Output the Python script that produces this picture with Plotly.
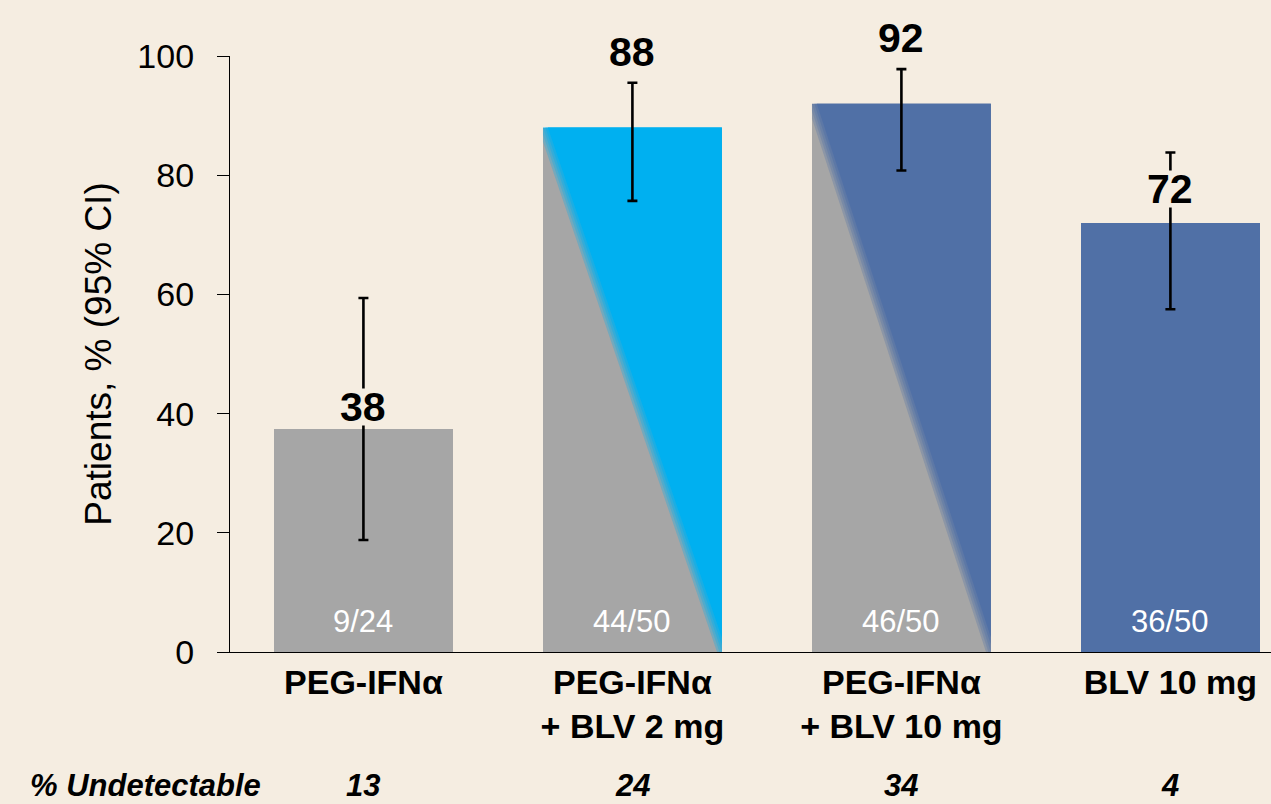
import plotly.graph_objects as go

# ---------------- data ----------------
categories = ["PEG-IFNα", "PEG-IFNα<br>+ BLV 2 mg", "PEG-IFNα<br>+ BLV 10 mg", "BLV 10 mg"]
responders = [9, 44, 46, 36]
totals = [24, 50, 50, 50]
percent = [37.5, 88, 92, 72]
value_labels = ["38", "88", "92", "72"]
ci_lower = [18.8, 75.7, 80.8, 57.5]
ci_upper = [59.4, 95.5, 97.8, 83.8]
undetectable = ["13", "24", "34", "4"]
y_ticks = [0, 20, 40, 60, 80, 100]

# ---------------- style ----------------
BG = "#F5EDE1"
GRAY = "#A6A6A6"
CYAN = "#00B0F0"
BLUE = "#5070A6"
base_colors = [GRAY, GRAY, GRAY, BLUE]
overlay_colors = [None, CYAN, BLUE, None]     # diagonal split colour (upper-right triangle)
label_at_ci = [False, True, True, False]      # value label sits above CI cap or bar top
label_gap_px = [22, 31, 31, 34]
FONT = "Liberation Sans, Arial, sans-serif"
BAR_W = 0.665
ROW_Y = -0.2232   # paper y of the "% Undetectable" row

xs = list(range(len(categories)))

fig = go.Figure()

# base bars
fig.add_trace(go.Bar(
    x=xs, y=percent, width=BAR_W, marker=dict(color=base_colors, line=dict(width=0)),
    hoverinfo="skip", showlegend=False,
))


def clip_halfplane(poly, f):
    out = []
    n = len(poly)
    for i in range(n):
        p, q = poly[i], poly[(i + 1) % n]
        fp, fq = f(*p), f(*q)
        if fp >= 0:
            out.append(p)
        if (fp >= 0) != (fq >= 0):
            t = fp / (fp - fq)
            out.append((p[0] + t * (q[0] - p[0]), p[1] + t * (q[1] - p[1])))
    return out


# diagonal split overlays with a soft edge
soft = 0.018
layers = [(-soft, 0.3), (-soft * 0.5, 0.3), (0.0, 0.35), (soft * 0.5, 0.5), (soft, 1.0)]
for i, col in enumerate(overlay_colors):
    if col is None:
        continue
    xl, xr, v = xs[i] - BAR_W / 2, xs[i] + BAR_W / 2, percent[i]
    rect = [(xl, 0), (xr, 0), (xr, v), (xl, v)]
    for d, a in layers:
        f = (lambda x, y, xl=xl, v=v, d=d: (x - xl) - BAR_W * (1 - y / v) - d)
        poly = clip_halfplane(rect, f)
        if len(poly) < 3:
            continue
        px = [p[0] for p in poly] + [poly[0][0]]
        py = [p[1] for p in poly] + [poly[0][1]]
        r, g, b = int(col[1:3], 16), int(col[3:5], 16), int(col[5:7], 16)
        fig.add_trace(go.Scatter(
            x=px, y=py, mode="lines", fill="toself",
            fillcolor=f"rgba({r},{g},{b},{a})", line=dict(width=0),
            hoverinfo="skip", showlegend=False,
        ))

# error bars (95% CI)
fig.add_trace(go.Scatter(
    x=xs, y=percent, mode="markers", marker=dict(size=1, opacity=0),
    error_y=dict(type="data", symmetric=False,
                 array=[u - p for u, p in zip(ci_upper, percent)],
                 arrayminus=[p - l for p, l in zip(percent, ci_lower)],
                 color="black", thickness=2.6, width=5),
    hoverinfo="skip", showlegend=False,
))

annotations = []
for i in xs:
    anchor_y = ci_upper[i] if label_at_ci[i] else percent[i]
    annotations.append(dict(
        x=xs[i], y=anchor_y, xref="x", yref="y", text=f"<b>{value_labels[i]}</b>",
        showarrow=False, yanchor="middle", yshift=label_gap_px[i], height=36,
        font=dict(family=FONT, size=41, color="black"), bgcolor=BG, borderpad=0,
    ))
    annotations.append(dict(
        x=xs[i], y=0, xref="x", yref="y", text=f"{responders[i]}/{totals[i]}",
        showarrow=False, yanchor="middle", yshift=31,
        font=dict(family=FONT, size=31, color="white"),
    ))
    annotations.append(dict(
        x=xs[i], y=ROW_Y, xref="x", yref="paper", text=f"<b><i>{undetectable[i]}</i></b>",
        showarrow=False, yanchor="middle",
        font=dict(family=FONT, size=31, color="black"),
    ))
annotations.append(dict(
    x=-0.194, y=ROW_Y, xref="paper", yref="paper", text="<b><i>% Undetectable</i></b>",
    showarrow=False, xanchor="left", yanchor="middle",
    font=dict(family=FONT, size=31, color="black"),
))

fig.update_layout(
    width=1271, height=804,
    margin=dict(l=230, r=0, t=56, b=152),
    paper_bgcolor=BG, plot_bgcolor=BG,
    font=dict(family=FONT, color="black"),
    annotations=annotations,
    bargap=0,
    xaxis=dict(
        range=[-0.496, 3.374], tickmode="array", tickvals=xs,
        ticktext=[f"<b>{c}</b>" for c in categories],
        tickfont=dict(family=FONT, size=34, color="black"),
        showline=True, linecolor="black", linewidth=1.3,
        ticks="", showgrid=False, zeroline=False, fixedrange=True,
    ),
    yaxis=dict(
        range=[0, 100], tickmode="array", tickvals=y_ticks,
        tickfont=dict(family=FONT, size=34, color="black"),
        ticks="outside", ticklen=12, tickwidth=1.3, tickcolor="black",
        ticklabelstandoff=16,
        showline=True, linecolor="black", linewidth=1.3,
        showgrid=False, zeroline=False, fixedrange=True,
        title=dict(text="Patients, % (95% CI)", standoff=14,
                   font=dict(family=FONT, size=37, color="black")),
    ),
)

fig.write_html("out.html", config={"displayModeBar": False},
               post_script="document.body.style.margin='0';")
